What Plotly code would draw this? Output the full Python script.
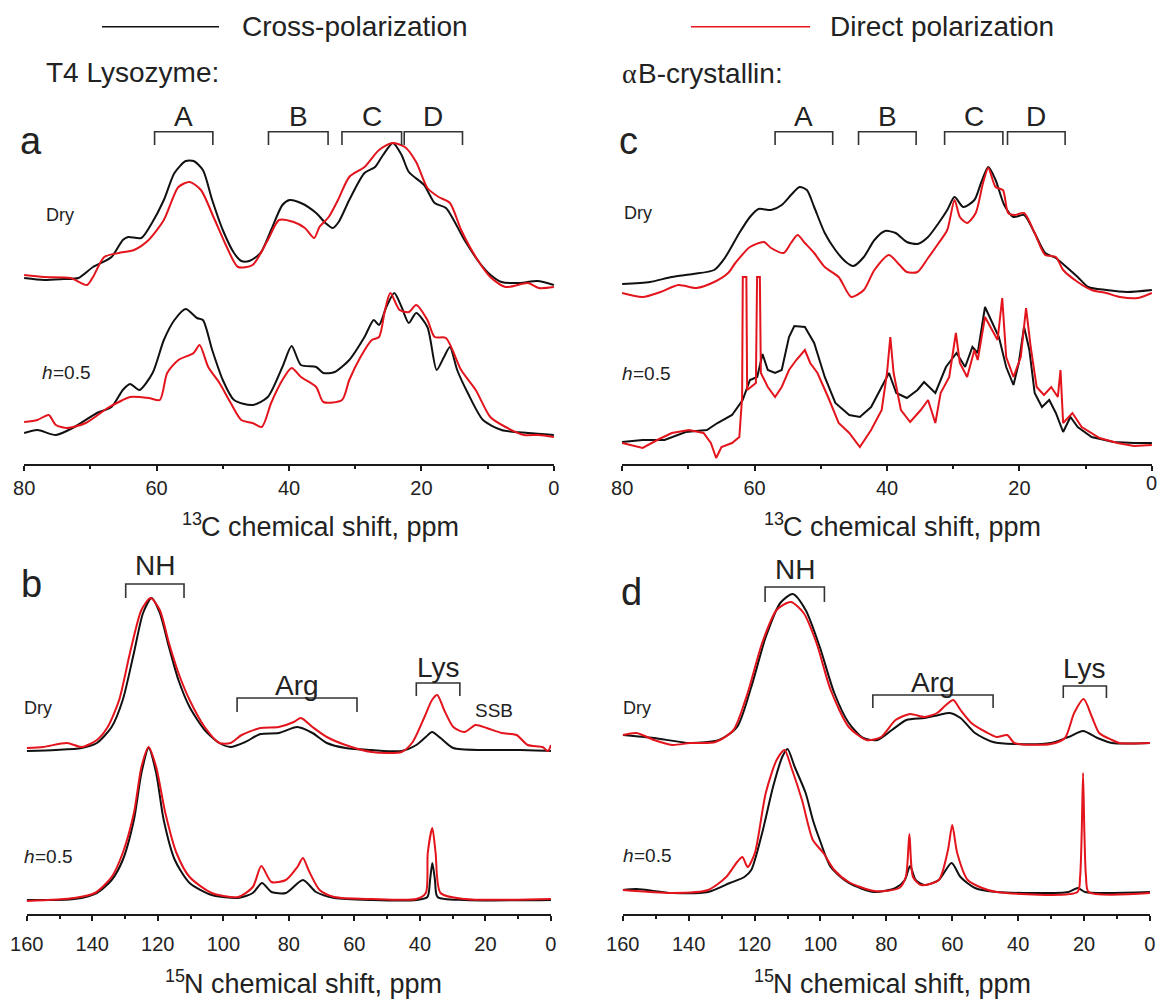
import plotly.graph_objects as go

W, H = 1160, 1003
FONT = "Liberation Sans, Arial, Helvetica, sans-serif"
TXT = "#222222"
CP_COLOR = "#111111"
DP_COLOR = "#e3141c"

# ---------------------------------------------------------------------------
# Spectra: chemical shift (ppm) and intensity (a.u., baseline = 0)
# ---------------------------------------------------------------------------

# T4 lysozyme, 13C, dry
lyso_c13_dry_cp_ppm = [80, 77, 74, 71.8, 69.6, 66.8, 65.1, 64.3, 62.3, 60.7, 58.9, 57.3, 55.6, 54.4, 53.0,
                       51.6, 50.0, 48.3, 47.2, 46.0, 44.3, 42.7, 41.0, 39.9, 38.2, 35.9, 34.5, 33.4, 32.5,
                       30.9, 28.6, 27.0, 25.8, 24.3, 23.0, 21.9, 19.6, 18.0, 16.3, 13.5, 11.2, 9.55, 7.9,
                       5.1, 2.5, 0]
lyso_c13_dry_cp_int = [4, 2, 3, 4, 15, 25, 42, 45, 44, 59, 82, 109, 121, 121, 112,
                       82, 52, 29, 21, 21, 29, 52, 77, 82, 79, 69, 59, 54, 60,
                       82, 109, 115, 127, 139, 127, 110, 97, 79, 74, 42, 19, 7, 0,
                       -1, 1, -3]
lyso_c13_dry_dp_ppm = [80, 77, 73, 70.5, 69.6, 67.9, 65.7, 63.4, 61.2, 58.9, 56.7, 55.0, 53.3, 51.4, 49.4,
                       47.7, 45.5, 43.2, 41.5, 39.3, 37.6, 36.2, 35.4, 34.0, 32.6, 30.9, 28.6, 26.4, 24.4,
                       22.5, 20.8, 19.1, 17.4, 15.7, 14.0, 11.8, 9.6, 7.3, 3.9, 2.3, 0]
lyso_c13_dry_dp_int = [7, 5, 4, -3, 5, 25, 29, 32, 42, 62, 95, 100, 92, 65, 35,
                       15, 17, 42, 62, 60, 54, 44, 55, 65, 82, 105, 115, 132, 139,
                       135, 120, 94, 85, 79, 52, 25, 5, -5, -1, -6, -5]

# T4 lysozyme, 13C, h = 0.5
lyso_c13_hyd_cp_ppm = [80, 78, 75.2, 72.4, 69.0, 66.8, 65.1, 64.0, 62.6, 60.6, 58.9, 57.3, 55.6, 53.9, 53.0,
                       51.6, 50.0, 48.3, 45.5, 43.2, 41.0, 39.6, 38.2, 35.9, 34.8, 33.1, 30.9, 28.6, 27.2,
                       26.4, 25.3, 24.1, 23.0, 21.9, 20.8, 19.1, 17.7, 16.6, 15.7, 14.6, 13.0, 10.7, 7.9,
                       3.9, 0]
lyso_c13_hyd_cp_int = [2, 5, 0, 8, 22, 28, 45, 51, 45, 62, 95, 115, 126, 117, 115,
                       85, 55, 35, 30, 38, 68, 89, 70, 68, 62, 63, 75, 98, 115,
                       110, 128, 142, 128, 112, 122, 108, 65, 78, 88, 65, 42, 15, 5,
                       2, 0]
lyso_c13_hyd_dp_ppm = [80, 78, 76.3, 75.2, 73.5, 70.7, 67.4, 65.7, 64.0, 61.2, 59.5, 58.4, 56.7, 54.4, 53.5,
                       52.2, 50.5, 48.8, 47.2, 45.5, 44.1, 42.7, 41.0, 39.6, 38.2, 35.9, 34.8, 32.0, 30.9,
                       29.2, 27.5, 26.4, 25.5, 24.7, 23.3, 21.9, 20.8, 19.1, 18.0, 16.3, 14.0, 11.8, 9.6,
                       7.3, 4.5, 2.3, 0]
lyso_c13_hyd_dp_int = [13, 15, 20, 10, 7, 12, 27, 33, 38, 37, 35, 62, 75, 82, 90,
                       68, 52, 32, 15, 12, 8, 32, 55, 67, 58, 48, 33, 35, 55,
                       78, 95, 98, 125, 142, 125, 123, 130, 115, 98, 97, 65, 45, 18,
                       8, 0, 0, -2]

# alphaB-crystallin, 13C, dry
crys_c13_dry_cp_ppm = [80, 75.8, 72.5, 69.3, 66.1, 64.5, 62.3, 60.7, 59.4, 57.5, 55.9, 54.5, 53.2, 52.1, 51.0,
                       49.4, 47.8, 46.2, 45.1, 43.5, 41.9, 40.3, 38.7, 37.0, 35.4, 33.8, 32.2, 30.9, 29.8,
                       28.5, 26.8, 25.8, 24.7, 23.6, 22.3, 20.9, 19.3, 17.7, 16.1, 14.5, 12.9, 11.2, 9.6,
                       6.9, 3.7, 0]
crys_c13_dry_cp_int = [6, 8, 13, 16, 20, 32, 57, 73, 81, 80, 85, 95, 103, 100, 83,
                       57, 40, 28, 24, 33, 50, 59, 57, 48, 46, 53, 67, 80, 93,
                       83, 90, 107, 123, 110, 85, 73, 75, 57, 37, 32, 23, 13, 3,
                       0, -2, 0]
crys_c13_dry_dp_ppm = [80, 76.9, 74.2, 71.5, 68.8, 66.1, 64.0, 62.9, 60.7, 58.6, 57.5, 55.6, 54.5, 53.5, 52.4,
                       51.0, 49.4, 47.3, 45.4, 43.5, 41.9, 39.7, 38.1, 37.0, 35.4, 33.8, 32.2, 30.9, 29.8,
                       29.0, 27.9, 26.6, 25.5, 24.7, 23.6, 22.5, 21.7, 20.7, 19.3, 17.7, 16.1, 14.5, 13.4,
                       11.2, 9.1, 6.9, 4.8, 2.1, 0]
crys_c13_dry_dp_int = [-3, -7, -2, 5, 2, 8, 17, 27, 43, 48, 42, 37, 47, 55, 47,
                       37, 23, 13, -7, 0, 20, 35, 25, 18, 18, 32, 47, 60, 90,
                       73, 67, 77, 107, 122, 103, 100, 77, 75, 77, 57, 35, 33, 20,
                       8, 0, -3, -7, -8, -3]

# alphaB-crystallin, 13C, h = 0.5
crys_c13_hyd_cp_ppm = [80, 76.9, 73.6, 70.4, 67.2, 65.6, 63.4, 61.8, 60.7, 59.6, 58.8, 58.0, 56.9, 55.9, 54.8,
                       54.0, 52.4, 51.0, 49.4, 47.8, 45.7, 44.1, 42.4, 40.8, 39.7, 38.6, 37.0, 35.4, 34.4,
                       32.7, 31.1, 29.5, 28.2, 27.1, 26.3, 25.2, 24.1, 23.1, 22.0, 20.9, 20.1, 19.3, 18.5,
                       17.7, 16.6, 15.5, 14.5, 13.4, 12.3, 11.2, 9.1, 5.8, 2.7, 0]
crys_c13_hyd_cp_int = [1, 3, 3, 11, 13, 20, 28, 43, 63, 66, 89, 73, 70, 73, 106,
                       117, 116, 100, 66, 40, 28, 26, 36, 56, 70, 50, 45, 53, 61,
                       50, 76, 90, 76, 96, 90, 136, 120, 106, 76, 58, 80, 116, 93,
                       50, 36, 43, 30, 11, 26, 16, 6, 1, 0, 0]
crys_c13_hyd_dp_ppm = [80, 76.9, 74.7, 72.5, 69.9, 67.7, 66.6, 65.8, 65.0, 63.4, 62.3, 61.88, 61.78, 61.24, 61.12,
                       60.5, 59.8, 59.62, 59.2, 59.05, 58.0, 56.9, 55.9, 54.8, 53.7, 52.4, 51.6, 50.5, 48.9,
                       47.3, 45.7, 44.1, 42.4, 40.8, 40.0, 39.5, 39.0, 37.9, 36.5, 34.9, 33.8, 32.7, 31.9,
                       30.6, 29.6, 29.0, 27.9, 26.8, 26.3, 25.2, 24.1, 23.3, 22.6, 22.0, 20.9, 19.8, 19.0,
                       18.3, 17.4, 16.3, 15.2, 14.2, 13.8, 13.4, 12.0, 10.6, 7.9, 5.2, 2.7, 0]
crys_c13_hyd_dp_int = [0, -5, 3, 10, 13, 10, 0, -15, -4, 0, 6, 46, 166, 166, 53,
                       56, 60, 166, 166, 70, 56, 46, 56, 73, 83, 93, 80, 70, 46,
                       20, 10, -4, 13, 33, 70, 106, 70, 33, 21, 33, 43, 20, 50,
                       66, 110, 80, 66, 93, 83, 126, 113, 103, 145, 86, 66, 86, 135,
                       96, 56, 48, 56, 46, 73, 20, 30, 16, 5, 0, -3, -2]

# T4 lysozyme, 15N, dry
lyso_n15_dry_cp_ppm = [160, 151.1, 143.2, 138.6, 134.1, 130.7, 127.3, 124.5, 121.9, 119.4, 116.6, 113.7, 110.3,
                       105.7, 101.2, 97.8, 93.3, 88.7, 83.1, 77.4, 72.8, 68.4, 62.7, 54.7, 45.6, 41.1, 38.2,
                       36.3, 33.7, 29.8, 20.7, 9.3, 0]
lyso_n15_dry_cp_int = [-1, 0, 2, 7, 23, 50, 97, 137, 152, 137, 103, 70, 43,
                       20, 7, 3, 8, 16, 17, 23, 17, 7, 2, 0, -1, 5, 13,
                       18, 12, 2, 0, 0, -1]
lyso_n15_dry_dp_ppm = [160, 155, 147.7, 143.2, 138.6, 135.3, 131.8, 128.5, 125.0, 122.2, 119.4, 116.6, 113.7,
                       110.3, 105.7, 101.2, 97.8, 94.4, 88.7, 83.1, 78.5, 76.3, 72.8, 68.4, 62.7, 54.7, 45.6,
                       42.2, 38.6, 36.3, 34.7, 32.6, 29.8, 26.4, 23.0, 19.6, 15.0, 10.5, 7.1, 2.6, 0.9, 0]
lyso_n15_dry_dp_int = [2, 3, 7, 3, 10, 23, 50, 97, 140, 152, 140, 107, 77,
                       50, 23, 7, 7, 15, 22, 23, 28, 32, 23, 13, 5, -2, -2,
                       8, 33, 50, 55, 40, 23, 18, 25, 22, 17, 15, 5, 3, -1, 5]

# T4 lysozyme, 15N, h = 0.5
lyso_n15_hyd_cp_ppm = [160, 145.5, 138.6, 134.1, 130.7, 127.3, 125.0, 122.8, 120.5, 118.2, 114.8, 110.3, 103.5,
                       95.5, 91.0, 88.2, 85.3, 80.9, 75.7, 71.7, 66.1, 54.7, 41.1, 37.7, 36.9, 36.2, 35.4,
                       34.6, 26.4, 0]
lyso_n15_hyd_cp_int = [0, 1, 7, 20, 40, 80, 127, 152, 127, 80, 40, 17, 5,
                       2, 7, 17, 8, 7, 20, 8, 2, 0, 0, 3, 20, 37, 20,
                       3, 0, 0]
lyso_n15_hyd_dp_ppm = [160, 145.5, 139.2, 134.1, 130.7, 127.3, 125.0, 122.8, 120.5, 117.7, 114.3, 110.3, 103.5,
                       95.5, 91.0, 88.4, 85.3, 80.9, 77.4, 75.7, 74.0, 70.6, 66.1, 54.7, 41.1, 38.2, 37.6,
                       36.2, 35.2, 33.7, 26.4, 0]
lyso_n15_hyd_dp_int = [-1, 2, 7, 23, 47, 87, 133, 153, 133, 87, 47, 23, 7,
                       3, 13, 34, 18, 20, 33, 42, 30, 10, 3, 1, 1, 7, 47,
                       72, 47, 7, 1, 1]

# alphaB-crystallin, 15N, dry
crys_n15_dry_cp_ppm = [160, 150.5, 139.6, 130.8, 125.3, 121.0, 116.6, 112.2, 108.4, 104.5, 100.2, 95.8, 91.4,
                       87.0, 82.7, 78.3, 73.9, 68.4, 64.1, 60.8, 57.5, 53.1, 47.6, 41.1, 30.1, 24.7, 20.3,
                       15.9, 11.5, 0]
crys_n15_dry_cp_int = [8, 5, 0, 3, 16, 56, 106, 140, 149, 133, 96, 50, 20,
                       5, 3, 13, 23, 25, 28, 30, 25, 10, 1, -1, 0, 6, 12,
                       5, 0, 0]
crys_n15_dry_dp_ppm = [160, 155.8, 150.5, 145, 139.6, 131.9, 126.4, 122.1, 117.7, 113.3, 109.0, 105.1, 101.2,
                       96.9, 91.4, 86.0, 81.6, 77.2, 72.8, 68.4, 64.6, 61.9, 59.7, 57.5, 54.2, 49.8, 46.5,
                       43.3, 41.1, 30.1, 25.8, 23.0, 20.1, 17.6, 15.4, 11.5, 9.3, 0]
crys_n15_dry_dp_int = [8, 10, 3, -2, 0, 1, 13, 50, 100, 133, 141, 130, 100,
                       53, 16, 3, 6, 23, 29, 26, 30, 38, 43, 33, 20, 11, 6,
                       8, 0, -1, 5, 30, 44, 26, 10, 3, 0, 0]

# alphaB-crystallin, 15N, h = 0.5
crys_n15_hyd_cp_ppm = [160, 155.8, 145, 134.1, 127.5, 123.1, 121, 117.7, 114.4, 111.6, 110, 107.8, 104.5,
                       102.3, 100.2, 96.9, 91.4, 83.7, 77.2, 74.4, 72.8, 71.1, 68.4, 64.1, 60.2, 57.5, 53.1,
                       46.5, 24.7, 21.9, 19.7, 0]
crys_n15_hyd_cp_int = [2, 3, -1, 0, 9, 15, 22, 59, 105, 135, 143, 125, 99,
                       72, 52, 25, 9, 0, 4, 12, 26, 12, 7, 12, 29, 15, 4,
                       0, 0, 4, 0, 0]
crys_n15_hyd_dp_ppm = [160, 145, 134.1, 128.6, 125.3, 123.7, 122.1, 119.9, 116.6, 113.3, 110.9, 108.9, 105.6,
                       102.3, 99.1, 95.8, 91.4, 83.7, 76.1, 74.1, 73.0, 71.9, 69.5, 64.1, 61.3, 60.0, 58.5,
                       55.3, 50.9, 46.5, 22.0, 21.2, 20.7, 20.3, 19.9, 19.4, 18.6, 0]
crys_n15_hyd_dp_int = [2, -1, 2, 15, 30, 35, 25, 39, 99, 132, 142, 125, 92,
                       52, 39, 22, 10, 1, 4, 15, 58, 15, 7, 12, 42, 67, 39,
                       12, 4, 0, 0, 15, 60, 119, 60, 15, 0, -1]

# Assignment regions (ppm ranges)
c13_region_names = ["A", "B", "C", "D"]
lyso_c13_regions = [(60.3, 51.5), (43.1, 34.1), (32.0, 23.0), (22.6, 13.8)]
crys_c13_regions = [(56.9, 48.2), (44.3, 35.6), (31.3, 22.5), (21.8, 13.1)]
n15_region_names = ["NH", "Arg", "Lys"]
lyso_n15_regions = [(129.8, 112.0), (95.8, 59.2), (41.1, 27.8)]
crys_n15_regions = [(116.8, 98.8), (84.1, 47.6), (26.3, 13.2)]

# ---------------------------------------------------------------------------
# Layout helpers (pixel -> paper)
# ---------------------------------------------------------------------------
def fx(px):
    return px / W


def fy(py):
    return 1 - py / H


Y_SPAN = 364  # intensity units shown above each axis line

panels = {
    # key: (xaxis, yaxis, x pixel span, axis line pixel y, ppm max, dry offset, h=0.5 offset)
    "a": ("x", "y", (24, 554), 464, 80, 182, 29),
    "c": ("x2", "y2", (622, 1152), 464, 80, 174, 21),
    "b": ("x3", "y3", (26.7, 551), 914, 160, 164, 14),
    "d": ("x4", "y4", (622.7, 1150), 914, 160, 171, 22),
}

spectra = {
    "a": [(lyso_c13_dry_cp_ppm, lyso_c13_dry_cp_int, "dry", "cp"),
          (lyso_c13_dry_dp_ppm, lyso_c13_dry_dp_int, "dry", "dp"),
          (lyso_c13_hyd_cp_ppm, lyso_c13_hyd_cp_int, "hyd", "cp"),
          (lyso_c13_hyd_dp_ppm, lyso_c13_hyd_dp_int, "hyd", "dp")],
    "c": [(crys_c13_dry_cp_ppm, crys_c13_dry_cp_int, "dry", "cp"),
          (crys_c13_dry_dp_ppm, crys_c13_dry_dp_int, "dry", "dp"),
          (crys_c13_hyd_cp_ppm, crys_c13_hyd_cp_int, "hyd", "cp"),
          (crys_c13_hyd_dp_ppm, crys_c13_hyd_dp_int, "hyd", "dp")],
    "b": [(lyso_n15_dry_cp_ppm, lyso_n15_dry_cp_int, "dry", "cp"),
          (lyso_n15_dry_dp_ppm, lyso_n15_dry_dp_int, "dry", "dp"),
          (lyso_n15_hyd_cp_ppm, lyso_n15_hyd_cp_int, "hyd", "cp"),
          (lyso_n15_hyd_dp_ppm, lyso_n15_hyd_dp_int, "hyd", "dp")],
    "d": [(crys_n15_dry_cp_ppm, crys_n15_dry_cp_int, "dry", "cp"),
          (crys_n15_dry_dp_ppm, crys_n15_dry_dp_int, "dry", "dp"),
          (crys_n15_hyd_cp_ppm, crys_n15_hyd_cp_int, "hyd", "cp"),
          (crys_n15_hyd_dp_ppm, crys_n15_hyd_dp_int, "hyd", "dp")],
}

fig = go.Figure()

for key, traces in spectra.items():
    xa, ya, _, _, _, off_dry, off_hyd = panels[key]
    for ppm, inten, state, method in traces:
        off = off_dry if state == "dry" else off_hyd
        spiky = key == "c" and state == "hyd"
        fig.add_trace(go.Scatter(
            x=ppm, y=[v + off for v in inten],
            xaxis=xa, yaxis=ya, mode="lines", showlegend=False, hoverinfo="skip",
            line=dict(color=CP_COLOR if method == "cp" else DP_COLOR, width=2,
                      shape="linear" if spiky else "spline", smoothing=0.7),
        ))

shapes = []
annotations = []


def text(s, px, py, size, xanchor="center", xref="paper", style="normal", family=FONT):
    annotations.append(dict(
        text=s, x=px if xref != "paper" else fx(px), y=fy(py), xref=xref, yref="paper",
        showarrow=False, xanchor=xanchor, yanchor="middle",
        font=dict(family=family, size=size, color=TXT, style=style),
    ))


layout_axes = {}
for key, (xa, ya, (x0, x1), axis_py, ppm_max, _, _) in panels.items():
    xname = "xaxis" if xa == "x" else "xaxis" + xa[1:]
    yname = "yaxis" if ya == "y" else "yaxis" + ya[1:]
    tick_vals = list(range(0, ppm_max + 1, 20))
    tick_text = [str(v) for v in tick_vals]
    if key == "c":
        # the right-most label of this axis sits at the page edge; it is written
        # as a separate text item so it is never dropped by the axis renderer
        tick_text[0] = ""
        text("0", 0, axis_py + 19.5, 20, xref=xa)
    layout_axes[xname] = dict(
        domain=[fx(x0), fx(x1)], anchor=ya, range=[ppm_max + 0.02, -0.02], automargin=False,
        showline=True, linecolor="#1a1a1a", linewidth=2,
        ticks="outside", ticklen=5, tickwidth=2, tickcolor="#1a1a1a",
        tickmode="array", tickvals=tick_vals, ticktext=tick_text,
        showgrid=False, zeroline=False,
        tickfont=dict(family=FONT, size=20, color=TXT),
        ticklabelstandoff=0 if ppm_max == 80 else 6,
        ticklabeloverflow="allow",
        minor=dict(tickmode="array", tickvals=list(range(10, ppm_max, 20)), ticks="outside",
                   ticklen=3, tickwidth=1.5, tickcolor="#1a1a1a", showgrid=False),
        fixedrange=True,
    )
    layout_axes[yname] = dict(
        domain=[fy(axis_py), fy(axis_py - Y_SPAN)], anchor=xa, range=[0, Y_SPAN],
        visible=False, automargin=False, fixedrange=True,
    )


def bracket(xa, lo_hi, top_py, bot_py):
    hi, lo = lo_hi
    shapes.append(dict(
        type="path", xref=xa, yref="paper",
        path=f"M {hi},{fy(bot_py)} L {hi},{fy(top_py)} L {lo},{fy(top_py)} L {lo},{fy(bot_py)}",
        line=dict(color="#333333", width=1.6),
    ))


# region brackets, 13C
for xa, regions in (("x", lyso_c13_regions), ("x2", crys_c13_regions)):
    for name, rng in zip(c13_region_names, regions):
        bracket(xa, rng, 131.7, 145)
        text(name, (rng[0] + rng[1]) / 2, 116, 28, xref=xa)

# region brackets, 15N
lyso_n15_py = [(584, 598, 565), (698, 712, 685), (683, 696, 667)]
crys_n15_py = [(587, 602, 569), (695, 708, 682), (686, 698, 668)]
for xa, regions, pys in (("x3", lyso_n15_regions, lyso_n15_py), ("x4", crys_n15_regions, crys_n15_py)):
    for name, rng, (top, bot, lab) in zip(n15_region_names, regions, pys):
        bracket(xa, rng, top, bot)
        text(name, (rng[0] + rng[1]) / 2, lab, 28, xref=xa)

# panel letters
text("a", 18, 141, 38, "left")
text("c", 617, 141, 38, "left")
text("b", 19, 584, 38, "left")
text("d", 619, 592, 38, "left")


# sample state labels
def hydration_label(px, py):
    text("h", px, py, 19, "left", style="italic")
    text("=0.5", px + 10.6, py, 19, "left")


text("Dry", 44, 215, 18, "left")
hydration_label(40, 372)
text("Dry", 622, 213, 18, "left")
hydration_label(620, 373)
text("Dry", 22, 708, 18, "left")
hydration_label(22, 856)
text("Dry", 621, 708, 18, "left")
hydration_label(621, 855)
text("SSB", 494, 710, 19)

# protein names
text("α", 620, 73, 28, "left", family="Liberation Serif, Times New Roman, serif")
text("B-crystallin:", 636, 73, 28, "left")
text("T4 Lysozyme:", 44, 72, 28, "left")


# axis titles (isotope mass number as a raised, smaller label)
def shift_title(mass, nucleus, left_px, py):
    text(mass, left_px, py - 8, 18, "left")
    text(nucleus + " chemical shift, ppm", left_px + 19, py, 27, "left")


shift_title("13", "C", 180, 527)
shift_title("13", "C", 762, 527)
shift_title("15", "N", 163, 984)
shift_title("15", "N", 752, 984)

# legend keys
shapes.append(dict(type="line", xref="paper", yref="paper", x0=fx(102), x1=fx(219), y0=fy(26.7), y1=fy(26.7),
                   line=dict(color=CP_COLOR, width=1.5)))
shapes.append(dict(type="line", xref="paper", yref="paper", x0=fx(691), x1=fx(810), y0=fy(26.7), y1=fy(26.7),
                   line=dict(color=DP_COLOR, width=1.5)))
text("Cross-polarization", 240, 26.7, 28, "left")
text("Direct polarization", 828, 26.7, 28, "left")

fig.update_layout(
    width=W, height=H, margin=dict(l=0, r=0, t=0, b=0, pad=0, autoexpand=False),
    paper_bgcolor="white", plot_bgcolor="white",
    shapes=shapes, annotations=annotations, showlegend=False,
    **layout_axes,
)

fig.write_html("out.html")
